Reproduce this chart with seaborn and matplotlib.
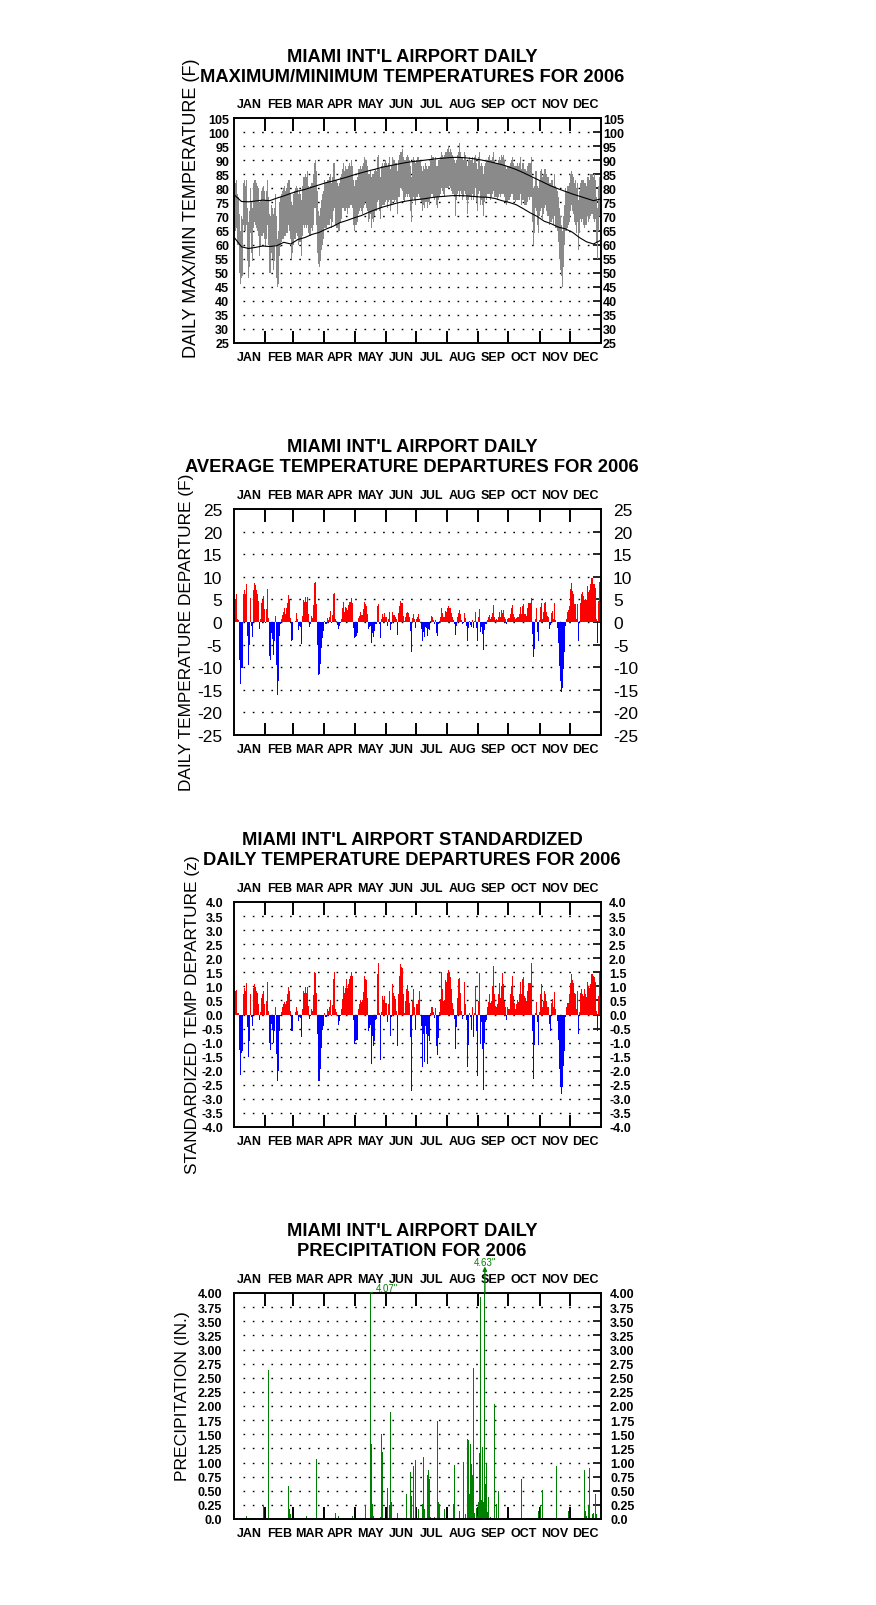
import numpy as np
import matplotlib
matplotlib.use("Agg")
import matplotlib.pyplot as plt
import matplotlib.transforms as mtrans
import seaborn as sns

sns.set_theme(style="white")
plt.rcParams['font.family'] = ['Liberation Sans', 'DejaVu Sans']
plt.rcParams['axes.unicode_minus'] = False
for k in ['text.color', 'axes.labelcolor', 'xtick.color', 'ytick.color', 'axes.edgecolor']:
    plt.rcParams[k] = 'black'

# ---------------- data ----------------
months = ["JAN", "FEB", "MAR", "APR", "MAY", "JUN", "JUL", "AUG", "SEP", "OCT", "NOV", "DEC"]
month_len = [31, 28, 31, 30, 31, 30, 31, 31, 30, 31, 30, 31]

tmax = [
80,82,83,78,77,71,65,70,69,82, 83,81,83,73,68,72,80,75,73,82,
83,83,82,81,80,75,76,79,80,81, 79,76,79,83,77,71,70,74,73,71,
73,78,70,62,65,75,77,78,79,80, 81,79,80,82,83,83,78,75,74,78,
79,80,81,80,78,79,78,76,81,84, 84,85,84,86,81,80,81,82,82,85,
89,90,86,79,72,70,73,76,78,79, 83,82,83,83,84,85,82,84,89,89,
83,83,82,81,82,84,85,87,89,86, 88,87,87,88,89,88,90,88,83,81,
83,83,84,87,87,88,87,88,89,91, 90,90,88,85,85,86,84,85,85,86,
87,86,91,92,87,84,88,89,88,89, 90,89,88,89,91,87,88,91,90,90,
89,89,86,90,92,93,93,94,91,90, 90,91,92,91,90,88,84,90,91,90,
89,90,91,91,90,90,88,86,88,87, 89,88,87,88,88,90,92,91,91,90,
91,88,88,90,90,91,93,92,91,92, 93,93,94,95,93,94,93,92,91,90,
89,90,92,93,96,93,91,91,90,93, 92,90,88,90,91,90,90,91,89,91,
92,89,87,91,93,88,89,88,85,88, 89,90,90,91,92,90,90,91,93,90,
89,89,89,90,91,90,92,91,92,90, 88,87,88,88,89,90,91,89,88,88,
88,89,88,89,91,87,89,89,87,87, 86,88,89,89,89,91,84,80,81,86,
86,81,80,83,86,87,84,85,87,87, 85,84,84,82,82,83,83,81,85,81,
80,79,77,73,70,67,65,70,74,80, 79,81,81,82,85,86,85,84,82,83,
80,82,76,79,82,83,83,83,82,82, 81,84,84,83,85,85,85,84,85,83,
77,73,81,84,82]

tmin = [
64,65,66,60,60,50,46,48,49,67, 65,65,67,54,48,52,64,57,54,66,
68,67,66,65,63,56,59,63,63,64, 62,59,62,67,60,50,50,57,55,51,
54,60,48,45,46,56,59,61,62,62, 63,63,64,64,67,65,62,55,57,60,
62,62,64,63,60,61,61,56,63,67, 66,67,66,67,64,63,63,66,65,67,
73,73,67,57,53,52,54,58,60,62, 66,66,67,67,67,69,66,68,72,73,
67,66,66,65,65,68,69,73,73,72, 72,73,71,73,73,74,74,73,67,65,
67,67,68,71,72,73,72,71,73,74, 75,73,72,68,69,71,66,69,68,70,
72,72,75,76,72,69,73,74,74,74, 75,76,73,75,76,72,74,76,76,75,
76,75,71,77,77,80,80,79,76,75, 77,78,77,78,77,72,68,76,77,76,
74,77,77,78,77,76,75,72,74,73, 75,75,73,75,74,77,78,78,77,76,
77,74,73,76,77,78,80,79,78,77, 80,80,80,80,81,80,79,78,78,77,
70,76,78,79,77,79,78,76,77,79, 78,76,71,76,77,77,76,78,76,77,
80,75,72,78,79,74,76,74,70,75, 77,76,78,78,78,76,77,78,79,77,
77,77,76,77,78,77,78,78,78,77, 75,74,75,76,77,78,78,76,76,75,
76,76,76,76,78,74,76,76,74,74, 74,75,77,76,77,77,68,60,64,73,
72,67,64,70,72,73,69,71,73,74, 72,70,70,67,68,68,69,67,70,66,
66,65,61,55,51,49,45,52,60,65, 65,66,67,68,72,74,72,71,68,67,
64,68,58,64,69,68,69,67,66,67, 67,70,68,69,70,71,71,69,68,69,
61,55,65,70,68]

norm_days = [0, 7, 14, 21, 28, 35, 42, 49, 56, 63, 70, 77, 84, 91, 98, 105, 112, 119,
             126, 133, 140, 147, 154, 161, 168, 175, 182, 189, 196, 203, 210, 217, 224,
             231, 238, 245, 252, 259, 266, 273, 280, 287, 294, 301, 308, 315, 322, 329,
             336, 343, 350, 357, 364]
norm_max = [77.6, 75.3, 75.2, 75.5, 75.8, 75.6, 76.5, 77.3, 78.2, 79.0, 79.6, 80.4, 81.2,
            82.0, 82.6, 83.3, 84.0, 84.8, 85.5, 86.2, 86.8, 87.5, 88.0, 88.5, 89.0, 89.4,
            89.7, 90.0, 90.3, 90.6, 90.8, 91.0, 91.0, 90.8, 90.5, 90.1, 89.6, 89.0, 88.4,
            87.6, 86.7, 85.6, 84.4, 83.2, 82.0, 80.8, 79.8, 78.9, 78.0, 77.2, 76.4, 75.6, 76.2]
norm_min = [62.4, 59.2, 58.6, 59.0, 59.5, 59.3, 59.6, 60.8, 60.2, 61.8, 62.5, 63.6, 64.3,
            65.5, 66.5, 67.8, 68.6, 69.5, 70.3, 71.4, 72.4, 73.3, 74.0, 74.7, 75.3, 75.7,
            76.0, 76.3, 76.7, 77.0, 77.2, 77.4, 77.4, 77.3, 77.1, 76.9, 76.8, 76.4, 75.6,
            75.0, 74.2, 72.8, 71.3, 70.0, 68.3, 67.4, 66.2, 65.6, 64.4, 62.5, 61.0, 60.2, 61.5]

dep = [
3.3,5.0,6.1,0.6,0.4,-8.5,-13.8,-10.1,-10.1,6.1, 7,6.3,8.3,-3.1,-9.5,-5,5.2,-0.9,-3.3,7,
8.7,8.2,7,6.1,4.6,-1.6,0.6,4.1,4.8,5.7, 2.8,-0.3,2.8,7.2,0.8,-7.5,-8.3,-2.4,-3.8,-7.3,
-4.2,1.3,-9.5,-16.1,-13,-3.1,-0.5,0.6,1.5,2.3, 3,1.8,3,4.1,5.9,5,0.8,-4.2,-4,0,
0,0.2,1.9,0.6,-1.8,-0.9,-1.1,-4.9,1.3,4.8, 4.4,5.5,4.5,5.5,1.7,-1.1,-0.5,1.3,0.8,3.7,
8.6,8.9,3.9,-5.1,-11.7,-11.4,-9.4,-5.7,-3.5,-2, 0.2,-0.5,0.8,0.5,1,2.4,-0.3,1.5,6.1,6.4,
0.6,0.2,-0.7,-1.5,-0.9,-0.3,0.6,3.2,4.4,2.3, 3.3,3.2,2.6,3.8,4.4,4.4,5.4,4.1,-1.4,-3.5,
-3.3,-3,-2.4,0.8,1.3,2.3,1.5,1.5,2.8,4.4, 3.9,3.5,1.7,-1.5,-1.1,-0.9,-4.6,-2.4,-3.3,-2,
-0.4,-0.4,3.5,3.9,-0.4,-3.5,0.6,1.7,1.2,2, 1.1,1.1,-0.9,0.6,2.3,-1.8,-0.5,2.3,1.5,1.5,
1.1,0.6,-2.9,2,3.5,4.6,4.1,4.1,1.3,0.2, 1,2.1,2.3,2.1,1.1,-2.1,-6.6,0.8,1.8,0.6,
-1.3,0.6,1,1.7,0.6,0,-1.6,-4.2,-2.2,-3.3, -1.1,-1.4,-3.2,-1.6,-1.8,0.2,1.3,1.1,0.4,-0.4,
0.4,-2.4,-3.2,-0.5,0.2,1.1,3,2.1,1,1, 2.4,2.3,3.2,3.5,3.2,3,2.1,1,0.4,-0.4,
-2.9,-0.9,1.1,2.1,2.6,1.7,0.4,-0.5,-0.3,2.1, 0.8,-0.9,-4.2,-1.3,0.2,-0.7,-1.1,0.4,-1.4,0.2,
2.3,-1.3,-4.1,1,2.8,-2.2,-1.1,-2.6,-6.2,-1.8, -0.5,-0.5,0.4,1.1,1.5,0.6,1,2.1,3.7,1,
0.4,0.6,0.4,1,2.2,1,2.6,2.1,2.6,1, 0.6,-0.4,0.6,0.8,1.8,3,3.8,1.7,1,0.6,
0.8,1.2,1,1.7,3.3,1.8,3.5,3.9,1.7,1.7, 1.3,3,4.3,4.1,4.2,5.4,-2.7,-7.7,-6,0.6,
3,-2.2,-4.2,0.4,3.3,4.1,0.6,2.3,4.3,4.5, 2.3,1.3,1,-1.6,-0.7,2.1,2.4,0.6,4.1,0.4,
0,-1.4,-4.6,-9.7,-13,-15.4,-14.5,-10.5,-6.6,-0.9, 0.6,2.3,2.6,3.5,7.2,8.7,6.9,6.1,3.9,3.9,
0.6,3.9,-4.2,0.2,4.3,6.1,6.7,5.8,4.8,5, 4.8,8,6.7,7,8.3,9.8,9.7,8.3,8.3,7.6,
0.6,-4.6,4.6,8.9,6.7]

zdep = [
0.5,0.84,0.86,0.07,0.05,-1.26,-2.14,-1.38,-1.3,0.74, 0.96,0.84,1.13,-0.46,-1.5,-0.93,0.74,-0.08,-0.4,0.96,
1.1,0.98,0.84,0.77,0.37,-0.2,0.1,0.6,0.74,0.84, 0.37,-0.03,0.48,1.17,0.13,-1,-1.25,-0.34,-0.55,-1.03,
-0.58,0.25,-1.4,-2.35,-2,-0.58,-0.05,0.1,0.25,0.39, 0.46,0.37,0.48,0.72,0.98,0.84,0.13,-0.6,-0.6,0,
0,0.1,0.28,0.13,-0.22,-0.1,-0.13,-0.79,0.19,0.84, 0.78,0.98,0.77,0.98,0.31,-0.16,-0.05,0.19,0.13,0.68,
1.52,1.49,0.78,-0.7,-2.35,-2.35,-1.94,-1.19,-0.55,-0.4, 0.05,-0.08,0.19,0.13,0.25,0.51,-0.05,0.33,1.25,1.52,
0.19,0.1,-0.06,-0.37,-0.22,-0.05,0.19,0.54,1.01,0.77, 0.93,1.25,0.93,1.1,1.25,1.37,1.52,1.37,-0.2,-1.05,
-0.93,-0.91,-0.91,0.19,0.39,0.51,0.46,0.51,0.81,1.37, 1.25,1.22,0.6,-0.58,-0.48,-0.37,-1.76,-0.75,-1.11,-0.93,
-0.2,-0.16,1.43,1.84,0.07,-1.62,0.1,0.66,0.48,0.66, 0.42,0.42,-0.28,0.37,0.84,-0.75,-0.1,1.07,0.78,0.66,
0.54,0.13,-1.11,0.74,1.37,1.78,1.69,1.64,0.72,0.07, 0.48,0.9,1.04,0.84,0.42,-0.81,-2.73,0.48,0.9,0.25,
-0.55,0.37,0.37,0.51,0.84,0,-0.4,-1.85,-0.7,-1.7, -0.4,-0.7,-1.76,-0.75,-0.93,0.07,0.25,0.25,0.1,-0.13,
0.22,-1.11,-1.43,-0.84,0.1,0.54,1.52,0.9,0.48,0.51, 1.22,1.17,1.49,1.57,1.52,1.33,0.9,0.42,0.19,-0.16,
-1.23,-0.44,0.6,1.25,1.31,0.78,0.13,-0.16,-0.05,1.17, 0.37,-0.2,-1.85,-1.07,0.05,-0.1,-0.55,0.27,-0.81,0.05,
1.01,-0.58,-2.17,0.48,1.49,-1.05,-0.28,-1.23,-2.68,-1, -0.25,-0.2,0.25,0.46,0.72,0.42,0.48,1.01,1.72,0.72,
0.31,0.25,0.37,0.72,1.13,0.58,1.01,1.49,1.07,0.48, 0.25,-0.2,0.25,0.19,0.72,1.01,1.37,0.66,0.42,0.19,
0.39,0.51,0.46,0.74,1.17,0.72,1.25,1.33,0.66,0.58, 0.48,0.84,1.13,1.13,1.13,1.82,-0.6,-2.29,-1.1,0.07,
0.46,-0.25,-1.07,0.1,0.72,1.1,0.25,0.48,0.84,0.74, 0.48,0.25,0.25,-0.32,-0.58,0.42,0.54,0.25,0.81,0.19,
0,-0.22,-0.91,-1.94,-2.56,-2.84,-2.58,-1.82,-1.29,-0.1, 0.25,0.42,0.42,0.72,1.13,1.43,1.22,1.13,0.78,0.74,
0.19,0.84,-0.7,0.1,0.78,0.9,0.74,0.66,0.9,0.72, 0.63,1.17,1.01,0.93,1.1,1.43,1.45,1.37,1.33,1.17,
0.13,-0.58,0.66,1.49,1.17]

precip_days = [5, 12, 18, 20, 29, 34, 47, 54, 55, 56, 72, 82, 100, 103, 108, 117, 130, 135, 136, 137,
               138, 145, 146, 147, 152, 154, 155, 156, 158, 162, 171, 175, 176, 178, 180, 183, 187,
               188, 189, 192, 193, 194, 195, 199, 202, 203, 204, 209, 218, 219, 224, 228, 230, 232,
               233, 234, 235, 236, 237, 238, 239, 241, 242, 243, 244, 245, 246, 247, 248, 249, 250,
               251, 252, 253, 255, 259, 261, 263, 271, 275, 278, 285, 302, 304, 306, 310, 320, 330,
               332, 343, 346, 348, 349, 350, 352, 353, 356, 357, 359, 360]
precip_in = [0.02, 0.05, 0.02, 0.02, 0.25, 2.64, 0.01, 0.59, 0.17, 0.09, 0.05, 1.07, 0.11, 0.05, 0.02,
             0.05, 0.25, 4.07, 1.32, 0.27, 0.05, 0.03, 1.50, 1.19, 0.55, 0.25, 1.89, 0.30, 0.02, 0.11,
             0.44, 0.84, 0.41, 0.94, 1.04, 0.18, 0.27, 1.09, 0.18, 0.78, 0.86, 0.70, 0.04, 0.03, 1.73,
             0.30, 0.27, 0.17, 0.27, 0.96, 0.15, 1.01, 0.09, 1.42, 1.40, 0.45, 1.32, 0.98, 0.77, 2.68,
             0.10, 0.20, 0.05, 0.30, 1.17, 3.93, 0.33, 1.27, 0.30, 4.63, 0.62, 0.99, 0.12, 0.39, 0.04,
             2.04, 0.27, 0.50, 0.11, 0.05, 0.39, 0.71, 0.15, 0.25, 0.52, 0.02, 0.94, 0.02, 0.14, 0.02,
             0.02, 0.87, 0.15, 0.06, 0.25, 0.91, 0.09, 0.10, 0.45, 0.09]

titles = [("MIAMI INT'L AIRPORT DAILY", "MAXIMUM/MINIMUM TEMPERATURES FOR 2006"),
          ("MIAMI INT'L AIRPORT DAILY", "AVERAGE TEMPERATURE DEPARTURES FOR 2006"),
          ("MIAMI INT'L AIRPORT STANDARDIZED", "DAILY TEMPERATURE DEPARTURES FOR 2006"),
          ("MIAMI INT'L AIRPORT DAILY", "PRECIPITATION FOR 2006")]
ylabels = ["DAILY MAX/MIN TEMPERATURE (F)", "DAILY TEMPERATURE DEPARTURE (F)",
           "STANDARDIZED TEMP DEPARTURE (z)", "PRECIPITATION (IN.)"]

# ---------------- layout ----------------
W, H = 876, 1606
fig = plt.figure(figsize=(W / 100, H / 100), dpi=100)
fig.patch.set_facecolor("white")

RED, BLUE, GREEN, GRAY = "#ff0000", "#0000ff", "#008000", "#8a8a8a"
days = np.arange(365)
xc = days + 0.5
month_start = np.concatenate([[0], np.cumsum(month_len)])
month_mid = month_start[:-1] + np.array(month_len) / 2.0

panels = [(119, 344), (510, 736), (903, 1128), (1294, 1520)]
ylabel_pos = [(192, 208, 13.0), (186, 632, 12.4), (192, 1015, 12.4), (182, 1396, 12.6)]


def make_axes(i, yticks, ylabels_txt, ysize, yweight, lpad, rpad, ylim):
    top, bot = panels[i]
    ax = fig.add_axes([234 / W, 1 - bot / H, 367 / W, (bot - top) / H])
    ax.set_facecolor("white")
    ax.set_xlim(0, 365)
    ax.set_ylim(*ylim)
    for s in ax.spines.values():
        s.set_visible(True)
        s.set_color("black")
        s.set_linewidth(1.4)
    ax.set_xticks(month_start[1:-1])
    ax.set_xticklabels([])
    ax.tick_params(axis="x", which="major", direction="in", length=9, width=1.4,
                   top=True, bottom=True, color="black")
    ax.set_xticks(month_mid, minor=True)
    ax.set_xticklabels(months, minor=True, fontsize=9, fontweight="bold", color="black")
    ax.tick_params(axis="x", which="minor", length=0, top=True, bottom=True,
                   labeltop=True, labelbottom=True, pad=6)
    ax.set_yticks(yticks)
    ax.set_yticklabels(ylabels_txt, fontsize=ysize, fontweight=yweight, color="black")
    ax.tick_params(axis="y", which="major", left=False, right=True, direction="in",
                   length=6, width=1.2, color="black", labelleft=True, labelright=True,
                   pad=lpad)
    for t in ax.yaxis.get_major_ticks():
        t.label2.set_fontsize(ysize)
        t.label2.set_fontweight(yweight)
    dx = (rpad - lpad) / 72.0
    off = mtrans.ScaledTranslation(dx, 0, fig.dpi_scale_trans)
    for t in ax.yaxis.get_major_ticks():
        t.label2.set_transform(t.label2.get_transform() + off)
    inner = [v for v in yticks if ylim[0] < v < ylim[1]]
    ax.hlines(inner, 9, 358, colors="black", linestyles=(0, (1.2, 5.5)), linewidth=1.0, zorder=1)
    fig.text(412 / W, 1 - (top - 62) / H, titles[i][0], ha="center", va="center",
             fontsize=13.2, fontweight="bold", color="black")
    fig.text(412 / W, 1 - (top - 42) / H, titles[i][1], ha="center", va="center",
             fontsize=13.2, fontweight="bold", color="black")
    lx, ly, lsz = ylabel_pos[i]
    fig.text(lx / W, 1 - ly / H, ylabels[i], rotation=90, ha="center", va="center",
             fontsize=lsz, color="black")
    return ax


# ---- Panel 1: daily max/min temperatures ----
t1 = list(range(25, 106, 5))
ax1 = make_axes(0, t1, [str(v) for v in t1], 9, "bold", 3.6, 1.4, (25, 105))
ax1.bar(xc, np.subtract(tmax, tmin), bottom=tmin, width=1.0, color=GRAY, linewidth=0, zorder=2)
sns.lineplot(x=np.array(norm_days) + 0.5, y=norm_max, ax=ax1, color="black", linewidth=0.8, zorder=3)
sns.lineplot(x=np.array(norm_days) + 0.5, y=norm_min, ax=ax1, color="black", linewidth=0.8, zorder=3)
ax1.set_xlim(0, 365)

# ---- Panel 2: departures ----
t2 = list(range(-25, 26, 5))
ax2 = make_axes(1, t2, [str(v) for v in t2], 12.5, "normal", 8.6, 8.6, (-25, 25))
dep_a = np.array(dep)
ax2.bar(xc, dep_a, width=1.0, color=np.where(dep_a >= 0, RED, BLUE), linewidth=0, zorder=2)

# ---- Panel 3: standardized departures ----
t3 = [v / 2 for v in range(-8, 9)]
ax3 = make_axes(2, t3, [f"{v:.1f}" for v in t3], 9, "bold", 8, 5.8, (-4, 4))
z_a = np.array(zdep)
ax3.bar(xc, z_a, width=1.0, color=np.where(z_a >= 0, RED, BLUE), linewidth=0, zorder=2)

# ---- Panel 4: precipitation ----
t4 = [v / 4 for v in range(0, 17)]
ax4 = make_axes(3, t4, ["0.0"] + [f"{v:.2f}" for v in t4[1:]], 9, "bold", 8.6, 6.5, (0, 4))
p_x = np.array(precip_days) + 0.5
p_v = np.array(precip_in)
ax4.bar(p_x, np.minimum(p_v, 4.0), width=0.9, color=GREEN, linewidth=0, zorder=2)
for d, v in zip(p_x, p_v):
    if v > 4.0:
        if v > 4.3:
            ax4.annotate("", xy=(d, 4.47), xytext=(d, 4.0), annotation_clip=False,
                         arrowprops=dict(arrowstyle="-|>", color=GREEN, lw=1.0,
                                         mutation_scale=6, shrinkA=0, shrinkB=0))
            ax4.text(d, 4.55, f'{v:.2f}"', ha="center", va="center", fontsize=7,
                     color=GREEN, clip_on=False)
        else:
            ax4.annotate(f'{v:.2f}"', xy=(d, 4.0), xytext=(d + 5.5, 4.08),
                         ha="left", va="center", fontsize=7, color=GREEN,
                         annotation_clip=False,
                         arrowprops=dict(arrowstyle="-", color=GREEN, lw=0.8,
                                         shrinkA=0, shrinkB=0))

fig.savefig("out.png", dpi=100, facecolor="white")
